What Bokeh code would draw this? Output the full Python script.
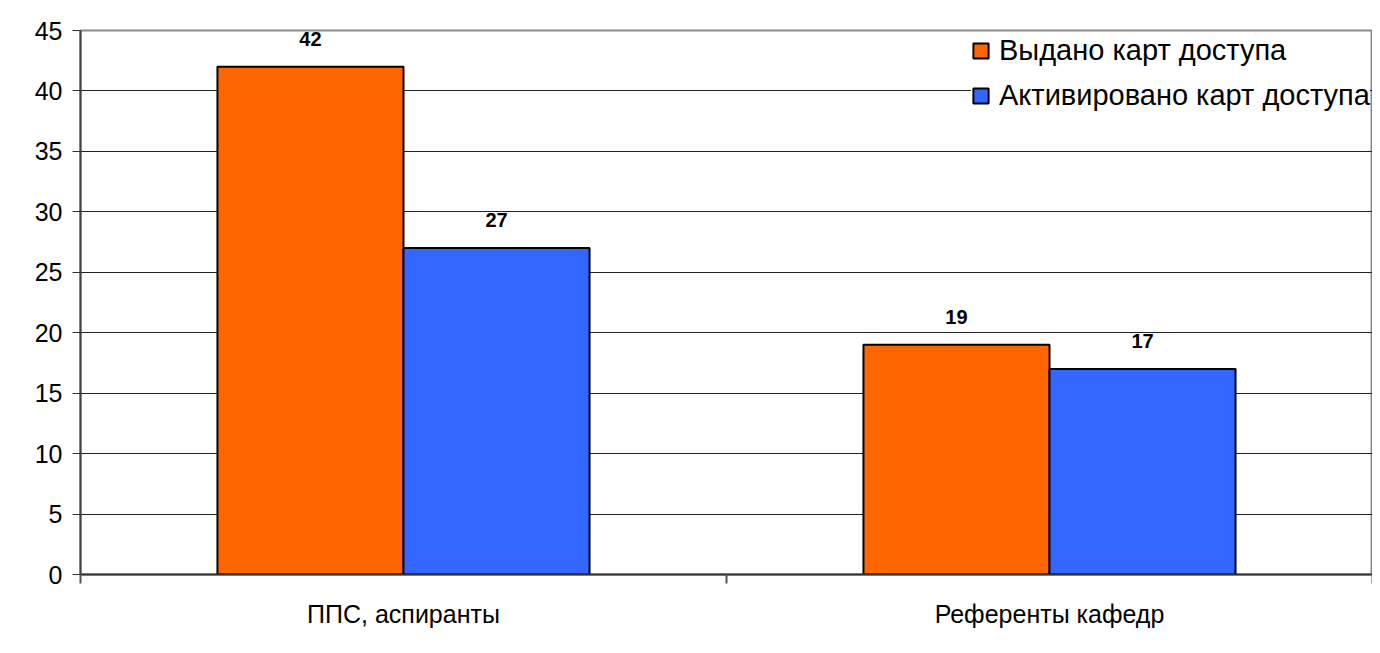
from bokeh.plotting import figure
from bokeh.models import Range1d, FixedTicker, ColumnDataSource, Legend, LegendItem
from bokeh.core.properties import value
from bokeh.embed import file_html
from bokeh.resources import INLINE

categories = ["ППС, аспиранты", "Референты кафедр"]
series_names = ["Выдано карт доступа", "Активировано карт доступа"]
issued = [42, 19]
activated = [27, 17]
colors = ["#FF6600", "#3366FF"]
y_ticks = [0, 5, 10, 15, 20, 25, 30, 35, 40, 45]

FONT = "Liberation Sans"
BAR_W = 0.288

p = figure(width=1372, height=645, output_backend="svg", toolbar_location=None,
           x_range=Range1d(0, len(categories)), y_range=Range1d(0, 45),
           min_border_left=80, min_border_right=0, min_border_top=30, min_border_bottom=71)
p.background_fill_color = "white"
p.border_fill_color = "white"
p.outline_line_color = "#8a8a8a"
p.outline_line_width = 2

centers = [i + 0.5 for i in range(len(categories))]
srcs = []
for k, vals in enumerate([issued, activated]):
    xs = [c + (k - 0.5) * BAR_W for c in centers]
    src = ColumnDataSource(dict(x=xs, top=vals, label=[str(v) for v in vals]))
    srcs.append(src)

renderers = []
for k, src in enumerate(srcs):
    r = p.vbar(x="x", top="top", width=BAR_W, bottom=0, source=src,
               fill_color=colors[k], line_color="#000000", line_width=2)
    renderers.append(r)
    p.text(x="x", y="top", text="label", source=src, text_align="center",
           text_baseline="bottom", y_offset=-21, text_font=value(FONT),
           text_font_size="20px", text_font_style="bold", text_color="#000000")

# axes
p.xaxis.ticker = FixedTicker(ticks=centers, minor_ticks=list(range(len(categories) + 1)))
p.xaxis.major_label_overrides = {c: cat for c, cat in zip(centers, categories)}
p.xaxis.major_tick_out = 0
p.xaxis.major_tick_in = 0
p.xaxis.minor_tick_out = 9
p.xaxis.minor_tick_in = 0
p.xaxis.minor_tick_line_color = "#555555"
p.xaxis.minor_tick_line_width = 2
p.xaxis.axis_line_color = "#333333"
p.xaxis.axis_line_width = 2
p.xaxis.major_label_text_font = FONT
p.xaxis.major_label_text_font_size = "25px"
p.xaxis.major_label_text_color = "#000000"
p.xaxis.major_label_standoff = 16

p.yaxis.ticker = FixedTicker(ticks=y_ticks)
p.yaxis.minor_tick_line_color = None
p.yaxis.major_tick_out = 8
p.yaxis.major_tick_in = 0
p.yaxis.major_tick_line_color = "#333333"
p.yaxis.major_tick_line_width = 1
p.yaxis.axis_line_color = "#444444"
p.yaxis.axis_line_width = 2
p.yaxis.major_label_text_font = FONT
p.yaxis.major_label_text_font_size = "25px"
p.yaxis.major_label_text_color = "#000000"
p.yaxis.major_label_standoff = 10

p.xgrid.grid_line_color = None
p.ygrid.grid_line_color = "#222222"
p.ygrid.grid_line_width = 1

legend = Legend(items=[LegendItem(label=series_names[k], renderers=[renderers[k]]) for k in range(2)],
                location=(891, 462), orientation="vertical")
legend.label_text_font = FONT
legend.label_text_font_size = "29px"
legend.label_text_color = "#000000"
legend.glyph_width = 19
legend.glyph_height = 19
legend.label_standoff = 9
legend.spacing = 12
legend.padding = 11
legend.margin = 0
legend.border_line_color = None
legend.background_fill_color = "white"
legend.background_fill_alpha = 1.0
p.add_layout(legend, "center")

open("out.html", "w").write(file_html(p, INLINE))
